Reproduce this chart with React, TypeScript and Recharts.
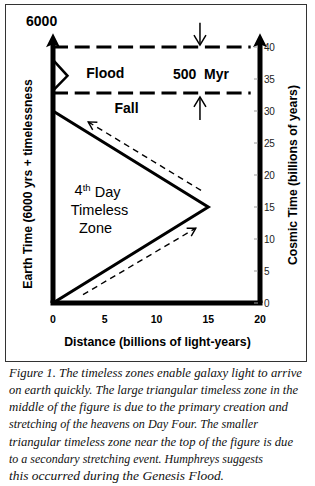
import React from 'react';
import { ComposedChart, Line, XAxis, YAxis, ReferenceLine, ReferenceDot } from 'recharts';

// ---------- data ----------
const distanceTicks = [0, 5, 10, 15, 20];
const cosmicTicks = [0, 5, 10, 15, 20, 25, 30, 35, 40];

const mainTimelessZone = [
  { x: 0, y: 0 },
  { x: 15, y: 15 },
  { x: 0, y: 30 },
];
const floodTimelessZone = [
  { x: 0, y: 33.2 },
  { x: 1.4, y: 35.5 },
  { x: 0, y: 38 },
];
const eventLevels = [40, 32.8];
const lightOutbound = [
  { x: 2.9, y: 1.3 },
  { x: 13.8, y: 11.7 },
];
const lightInbound = [
  { x: 14.3, y: 17.6 },
  { x: 3.4, y: 28.3 },
];
const earthAxisLine = [
  { x: 0, y: 0 },
  { x: 0, y: 40.9 },
];
const cosmicAxisLine = [
  { x: 20, y: 0 },
  { x: 20, y: 40.9 },
];
const distanceAxisLine = [
  { x: 0, y: 0 },
  { x: 20, y: 0 },
];
const spanArrowTop = [
  { x: 14.2, y: 43.8 },
  { x: 14.2, y: 40.3 },
];
const spanArrowBottom = [
  { x: 14.2, y: 28.6 },
  { x: 14.2, y: 32.2 },
];
const boldLabels = [
  { x: 5.05, y: 35.9, text: 'Flood' },
  { x: 14.3, y: 35.8, text: '500  Myr' },
  { x: 7.1, y: 30.5, text: 'Fall' },
  { x: -1.1, y: 44.1, text: '6000' },
];
const zoneLabel = { x: 4.4, y: 14.8 };
const zoneLines = ['Timeless', 'Zone'];

const captionLines = [
  'Figure 1. The timeless zones enable galaxy light to arrive',
  'on earth quickly. The large triangular timeless zone in the',
  'middle of the figure is due to the primary creation and',
  'stretching of the heavens on Day Four. The smaller',
  'triangular timeless zone near the top of the figure is due',
  'to a secondary stretching event. Humphreys suggests',
  'this occurred during the Genesis Flood.',
];
const captionWidths = [293, 289, 279, 249, 284, 254, 215];

const SANS = 'Arial, "Liberation Sans", Helvetica, sans-serif';

const DistanceTick = (props: any) => {
  const { x, y, payload } = props;
  return (
    <text x={x} y={y + 16} dy="0.35em" textAnchor="middle" fontFamily={SANS} fontWeight="bold" fontSize={10.5} fill="#000">
      {payload.value}
    </text>
  );
};

const CosmicTick = (props: any) => {
  const { x, y, payload } = props;
  return (
    <g>
      <line x1={x - 6} x2={x - 2} y1={y} y2={y} stroke="#999" strokeWidth={1} />
      <text x={x + 4} y={y} dy="0.35em" textAnchor="start" fontFamily={SANS} fontSize={10} fill="#222" letterSpacing={-0.3}>
        {payload.value}
      </text>
    </g>
  );
};

const LeftLabel = (props: any) => {
  const vb = props.viewBox || { x: 8, y: 47, width: 45, height: 256 };
  const cx = vb.x + 20;
  const cy = vb.y + vb.height / 2 + 9;
  return (
    <text x={cx} y={cy} dy="0.35em" transform={`rotate(-90, ${cx}, ${cy})`} textAnchor="middle" fontFamily={SANS} fontWeight="bold" fontSize={12.2} fill="#000">
      Earth Time (6000 yrs + timelessness
    </text>
  );
};

const RightLabel = (props: any) => {
  const vb = props.viewBox || { x: 260, y: 47, width: 55, height: 256 };
  const cx = vb.x + 32.5;
  const cy = vb.y + vb.height / 2;
  return (
    <text x={cx} y={cy} dy="0.35em" transform={`rotate(-90, ${cx}, ${cy})`} textAnchor="middle" fontFamily={SANS} fontWeight="bold" fontSize={12.2} fill="#000">
      Cosmic Time (billions of years)
    </text>
  );
};

const BottomLabel = (props: any) => {
  const vb = props.viewBox || { x: 53, y: 303, width: 207, height: 46 };
  const cx = vb.x + vb.width / 2 + 1;
  const cy = vb.y + 39;
  return (
    <text x={cx} y={cy} dy="0.35em" textAnchor="middle" fontFamily={SANS} fontWeight="bold" fontSize={12.3} fill="#000">
      Distance (billions of light-years)
    </text>
  );
};

const segLine = (marker: string, width: number, dash?: string, cap = 'butt') => (p: any) => (
  <line
    x1={p.x1}
    y1={p.y1}
    x2={p.x2}
    y2={p.y2}
    stroke="#000"
    strokeWidth={width}
    strokeDasharray={dash}
    strokeLinecap={cap as any}
    markerEnd={marker ? `url(#${marker})` : undefined}
  />
);

export default function App() {
  return (
    <div style={{ position: 'absolute', left: 0, top: 0, width: 315, height: 486, background: '#fff', overflow: 'hidden' }}>
      <svg width={0} height={0} style={{ position: 'absolute' }}>
        <defs>
          <marker id="bigHead" markerUnits="userSpaceOnUse" viewBox="0 -8 16 16" refX={7} refY={0} markerWidth={16} markerHeight={16} orient="auto">
            <path d="M1,-7 L15,0 L1,7 L4,0 Z" fill="#000" />
          </marker>
          <marker id="vHead" markerUnits="userSpaceOnUse" viewBox="-1 -8 14 16" refX={11} refY={0} markerWidth={14} markerHeight={16} orient="auto">
            <path d="M1,-6 L11,0 L1,6" fill="none" stroke="#000" strokeWidth={1.5} />
          </marker>
          <marker id="dHead" markerUnits="userSpaceOnUse" viewBox="-1 -6 12 12" refX={9} refY={0} markerWidth={12} markerHeight={12} orient="auto">
            <path d="M1,-4.5 L9,0 L1,4.5" fill="none" stroke="#000" strokeWidth={1.4} />
          </marker>
        </defs>
      </svg>

      <div
        style={{
          position: 'absolute',
          left: 5,
          top: 4,
          width: 302,
          height: 358,
          boxSizing: 'border-box',
          border: '1.5px solid #333',
        }}
      />

      <div style={{ position: 'absolute', left: 0, top: 0 }}>
        <ComposedChart width={315} height={365} margin={{ top: 47, right: 0, bottom: 16, left: 8 }}>
          <XAxis
            type="number"
            dataKey="x"
            domain={[0, 20]}
            ticks={distanceTicks}
            allowDataOverflow
            axisLine={false}
            tickLine={false}
            tickSize={0}
            tickMargin={0}
            height={46}
            tick={<DistanceTick />}
            label={<BottomLabel />}
          />
          <YAxis
            yAxisId="earth"
            orientation="left"
            type="number"
            domain={[0, 40]}
            allowDataOverflow
            width={45}
            axisLine={false}
            tickLine={false}
            tick={false}
            label={<LeftLabel />}
          />
          <YAxis
            yAxisId="cosmic"
            orientation="right"
            type="number"
            domain={[0, 40]}
            ticks={cosmicTicks}
            allowDataOverflow
            width={55}
            axisLine={false}
            tickLine={false}
            tickSize={0}
            tickMargin={0}
            tick={<CosmicTick />}
            label={<RightLabel />}
          />

          {eventLevels.map((lv) => (
            <ReferenceLine
              key={lv}
              yAxisId="cosmic"
              segment={[{ x: 0, y: lv }, { x: 19.1, y: lv }]}
              ifOverflow="visible"
              shape={segLine('', 3, '15 6.7')}
            />
          ))}

          <Line yAxisId="cosmic" data={mainTimelessZone} dataKey="y" type="linear" stroke="#000" strokeWidth={3} dot={false} isAnimationActive={false} />
          <Line yAxisId="cosmic" data={floodTimelessZone} dataKey="y" type="linear" stroke="#000" strokeWidth={2.5} dot={false} isAnimationActive={false} />

          <ReferenceLine yAxisId="cosmic" segment={lightOutbound} ifOverflow="visible" shape={segLine('dHead', 1.4, '6 4.5')} />
          <ReferenceLine yAxisId="cosmic" segment={lightInbound} ifOverflow="visible" shape={segLine('dHead', 1.4, '6 4.5')} />

          <ReferenceLine yAxisId="cosmic" segment={distanceAxisLine} ifOverflow="visible" shape={segLine('', 5, undefined, 'square')} />
          <ReferenceLine yAxisId="cosmic" segment={earthAxisLine} ifOverflow="visible" shape={segLine('bigHead', 5)} />
          <ReferenceLine yAxisId="cosmic" segment={cosmicAxisLine} ifOverflow="visible" shape={segLine('bigHead', 5)} />

          <ReferenceLine yAxisId="cosmic" segment={spanArrowTop} ifOverflow="visible" shape={segLine('vHead', 1.5)} />
          <ReferenceLine yAxisId="cosmic" segment={spanArrowBottom} ifOverflow="visible" shape={segLine('vHead', 1.5)} />

          {boldLabels.map((l) => (
            <ReferenceDot
              key={l.text}
              yAxisId="cosmic"
              x={l.x}
              y={l.y}
              r={0}
              ifOverflow="visible"
              shape={(p: any) => (
                <text x={p.cx} y={p.cy} dy="0.36em" textAnchor="middle" fontFamily={SANS} fontWeight="bold" fontSize={14} fill="#000" style={{ whiteSpace: 'pre' }}>
                  {l.text}
                </text>
              )}
            />
          ))}

          <ReferenceDot
            yAxisId="cosmic"
            x={zoneLabel.x}
            y={zoneLabel.y}
            r={0}
            ifOverflow="visible"
            shape={(p: any) => (
              <text x={p.cx} y={p.cy} textAnchor="middle" fontFamily={SANS} fontSize={14.5} fill="#000">
                <tspan x={p.cx} dy="-0.9em" dx={-1}>
                  4<tspan fontSize={9.5} dy="-0.45em">th</tspan>
                  <tspan dy="0.45em"> Day</tspan>
                </tspan>
                <tspan x={p.cx + 1} dy="1.24em">{zoneLines[0]}</tspan>
                <tspan x={p.cx - 3} dy="1.24em">{zoneLines[1]}</tspan>
              </text>
            )}
          />
        </ComposedChart>
      </div>

      <svg width={315} height={121} style={{ position: 'absolute', left: 0, top: 365 }}>
        {captionLines.map((t, i) => (
          <text
            key={i}
            x={9}
            y={11.5 + i * 17.3}
            fontFamily='"Liberation Serif", "Times New Roman", serif'
            fontStyle="italic"
            fontSize={12.6}
            fill="#111"
            textLength={captionWidths[i]}
            lengthAdjust="spacingAndGlyphs"
          >
            {t}
          </text>
        ))}
      </svg>
    </div>
  );
}
